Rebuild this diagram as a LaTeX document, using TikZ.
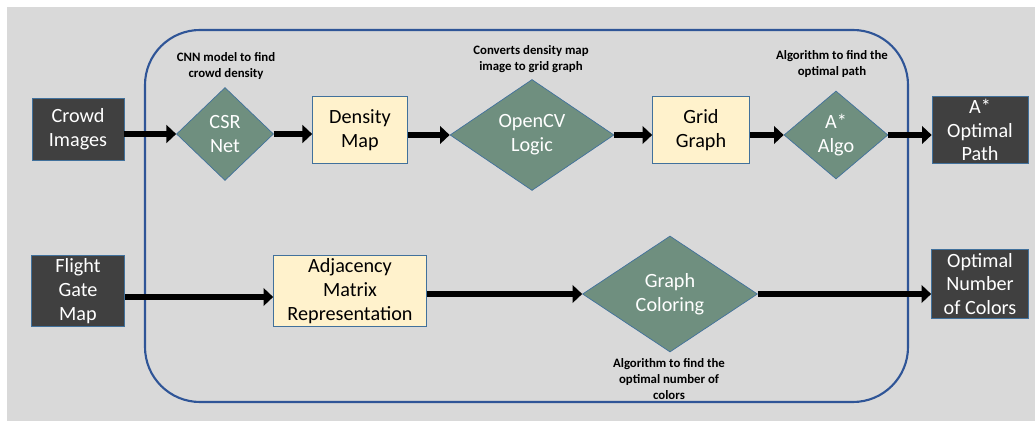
\documentclass[tikz,border=0pt]{standalone}
\usepackage{fontspec}
\setmainfont{Carlito}
\usepackage{tikz}
\usetikzlibrary{arrows.meta, positioning, calc, shapes.geometric}
\usepackage{xcolor}
\definecolor{panel}{RGB}{217,217,217}
\definecolor{darkbox}{RGB}{64,64,64}
\definecolor{edgeblue}{RGB}{65,113,156}
\definecolor{sage}{RGB}{111,143,127}
\definecolor{cream}{RGB}{255,242,204}
\definecolor{frameblue}{RGB}{47,85,151}

\begin{document}
\begin{tikzpicture}[x=0.02cm, y=-0.02cm,
    io/.style={draw=edgeblue, fill=darkbox, text=white, align=center, inner sep=0,
      font=\fontsize{11.5}{13.5}\selectfont},
    stage/.style={draw=edgeblue, fill=cream, text=black, align=center, inner sep=0,
      font=\fontsize{11.5}{13.5}\selectfont},
    algo/.style={diamond, draw=edgeblue, fill=sage, text=white, align=center, inner sep=0,
      font=\fontsize{11.5}{13.5}\selectfont},
    note/.style={align=center, inner sep=0, font=\fontsize{7.3}{9.3}\selectfont\bfseries},
    flow/.style={black, line width=3.8pt, -{Triangle[length=5.5pt, width=10pt]}}]
  \useasboundingbox (0,0) rectangle (1035,421);
  \fill[panel] (7,7) rectangle (1035,421);

  % Outer frame
  \draw[frameblue, line width=1.2pt, rounded corners=1.1cm] (145,30) rectangle (908,402);

  % Top row - crowd path
  \node[io, minimum width=1.84cm, minimum height=1.24cm] (crowd) at (78,129) {Crowd\\Images};
  \node[algo, minimum width=1.94cm, minimum height=1.86cm] (csr) at (225,134) {CSR\\Net};
  \node[stage, minimum width=1.90cm, minimum height=1.34cm] (density) at (360,130) {Density\\Map};
  \node[algo, minimum width=3.28cm, minimum height=2.22cm] (opencv) at (532,135) {OpenCV\\Logic};
  \node[stage, minimum width=1.94cm, minimum height=1.34cm] (grid) at (701,130) {Grid\\Graph};
  \node[algo, minimum width=2.08cm, minimum height=1.76cm] (astar) at (836,135) {A*\\Algo};
  \node[io, minimum width=1.92cm, minimum height=1.34cm] (path) at (980,130) {A*\\Optimal\\Path};

  \node[note] (csrnote) at (226,66) {CNN model to find\\crowd density};
  \node[note] (cvnote) at (531,59) {Converts density map\\image to grid graph};
  \node[note] (astarnote) at (832,64) {Algorithm to find the\\optimal path};

  \draw[flow] (crowd.east |- csr) -- (csr.west);
  \draw[flow] (csr.east) -- (density.west |- csr);
  \draw[flow] (density.east |- opencv) -- (opencv.west);
  \draw[flow] (opencv.east) -- (grid.west |- opencv);
  \draw[flow] (grid.east |- astar) -- (astar.west);
  \draw[flow] (astar.east) -- (path.west |- astar);

  % Bottom row - gate colouring
  \node[io, minimum width=1.86cm, minimum height=1.42cm] (gate) at (78,291) {Flight\\Gate\\Map};
  \node[stage, minimum width=3.06cm, minimum height=1.42cm] (adj) at (350,291) {Adjacency\\Matrix\\Representation};
  \node[algo, minimum width=3.50cm, minimum height=2.32cm] (coloring) at (670,294) {Graph\\Coloring};
  \node[io, minimum width=1.94cm, minimum height=1.38cm] (colors) at (980,284) {Optimal\\Number\\of Colors};

  \node[note] (colnote) at (669,379) {Algorithm to find the\\optimal number of\\colors};

  \draw[flow] (gate.east |- 0,297) -- (adj.west |- 0,297);
  \draw[flow] (adj.east |- coloring) -- (coloring.west);
  \draw[flow] (coloring.east) -- (colors.west |- coloring);
\end{tikzpicture}
\end{document}
